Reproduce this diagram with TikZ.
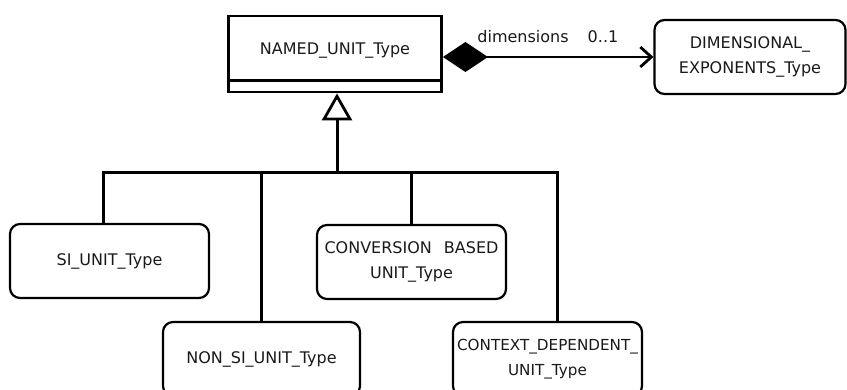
\documentclass[tikz,border=0pt]{standalone}
\usepackage{fontspec}
\setmainfont{DejaVu Sans}
\usetikzlibrary{arrows.meta,calc}
\begin{document}
\begin{tikzpicture}[x=1pt,y=-1pt,
  font=\fontsize{16}{25}\selectfont,
  box/.style={draw, line width=2.2pt, rounded corners=10pt, align=center, inner sep=0pt, text=black!90},
  lbl/.style={inner sep=0pt, text=black!90},
  conn/.style={line width=3pt}]
\clip (0,0) rectangle (847,390);
% classes
\node[draw, line width=2.8pt, minimum width=213pt, minimum height=76pt, inner sep=0pt] (named) at (335,54) {};
\node[lbl] (namedtxt) at (335,51) {NAMED\_UNIT\_Type};
\draw[line width=2.8pt] ([yshift=13pt]named.south west) -- ([yshift=13pt]named.south east);
\node[box, minimum width=191pt, minimum height=74pt] (dim) at (750,57) {DIMENSIONAL\_\\EXPONENTS\_Type};
\node[box, minimum width=199pt, minimum height=74pt] (si) at (109.5,261) {SI\_UNIT\_Type};
\node[box, minimum width=197pt, minimum height=74pt] (nonsi) at (261.5,359) {NON\_SI\_UNIT\_Type};
\node[box, minimum width=189pt, minimum height=74pt] (conv) at (411.5,262) {CONVERSION\hspace{7pt} BASED\\UNIT\_Type};
\node[box, minimum width=189pt, minimum height=74pt, font=\fontsize{15.2}{25}\selectfont] (ctx) at (547.5,359) {CONTEXT\_DEPENDENT\_\\UNIT\_Type};
% composition
\draw[line width=2.8pt, {Diamond[length=45pt,width=30pt]}-{Straight Barb[length=11pt,width=20pt,line width=2.8pt]}] (named.east |- dim.west) -- (dim.west);
\node[lbl] (dimlbl) at (523,37) {dimensions};
\node[lbl] (mult) at (603,37) {0..1};
% generalisation
\coordinate (bus) at (337,173);
\draw[conn, -{Triangle[open, length=27pt, width=30pt, line width=2.8pt]}] (bus) -- (bus |- named.south);
\draw[conn] ([xshift=-6.5pt]si.north) |- (bus) -| ([xshift=9.5pt]ctx.north);
\draw[conn] (nonsi.north) -- (nonsi.north |- bus);
\draw[conn] (conv.north) -- (conv.north |- bus);
\end{tikzpicture}
\end{document}
